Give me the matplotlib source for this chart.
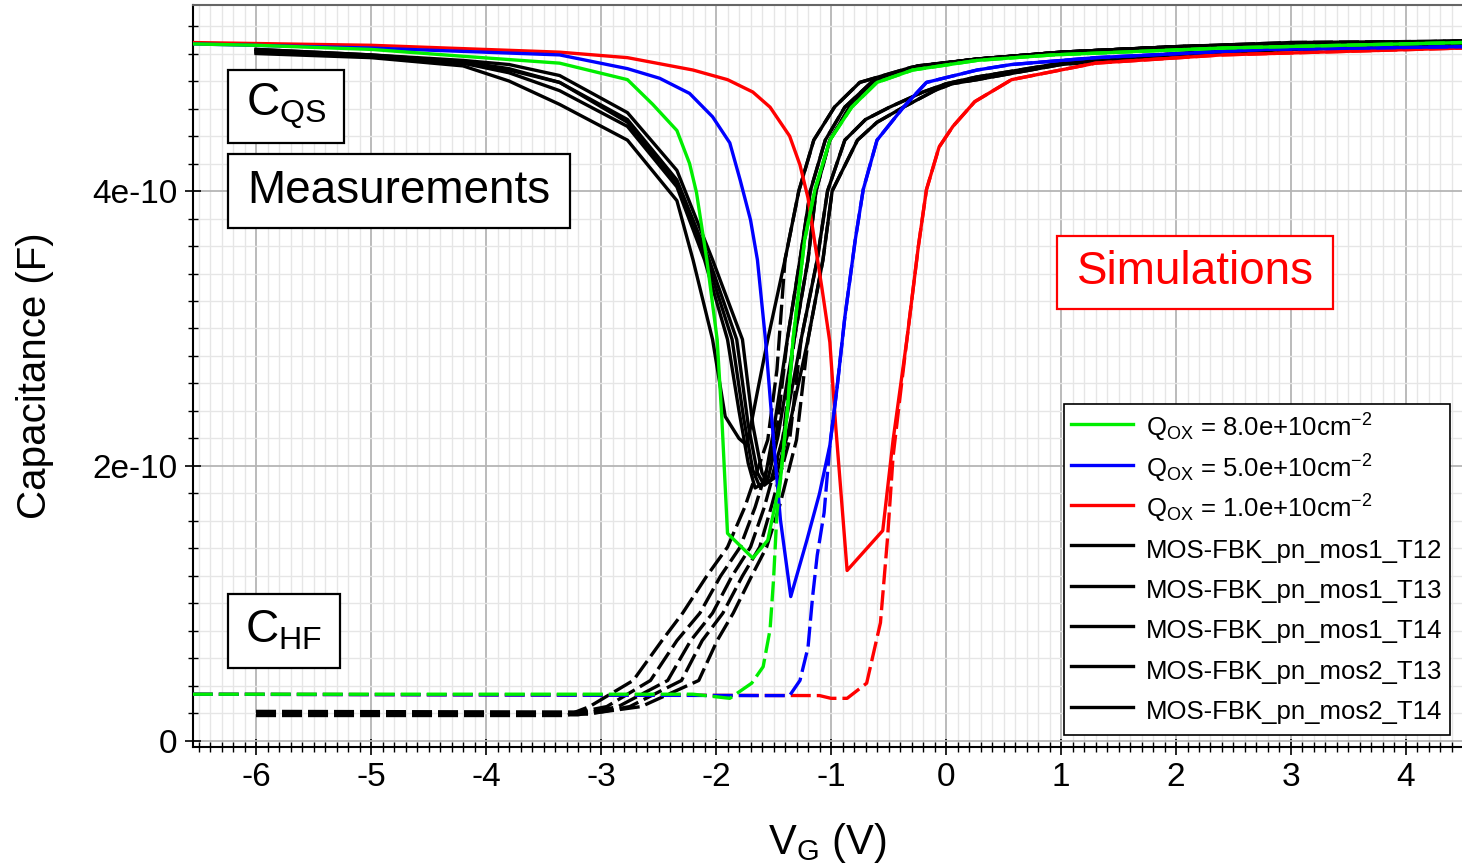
import matplotlib
matplotlib.use("Agg")
import matplotlib.pyplot as plt
from matplotlib.ticker import MultipleLocator, FuncFormatter, FixedLocator
from matplotlib.patches import Rectangle

plt.rcParams['font.family'] = ['Liberation Sans', 'DejaVu Sans']
plt.rcParams['mathtext.fontset'] = 'custom'
plt.rcParams['mathtext.rm'] = 'Liberation Sans'
plt.rcParams['mathtext.it'] = 'Liberation Sans:italic'
plt.rcParams['axes.unicode_minus'] = False

UNIT = 1e-10  # capacitance values below are in units of 1e-10 F

# ---------------- Simulations (Q_ox) ----------------
sim_labels = [r'$\mathregular{Q_{OX}}$ = 8.0e+10cm$\mathregular{^{-2}}$',
              r'$\mathregular{Q_{OX}}$ = 5.0e+10cm$\mathregular{^{-2}}$',
              r'$\mathregular{Q_{OX}}$ = 1.0e+10cm$\mathregular{^{-2}}$']
sim_colors = ['#00ee00', '#0000ff', '#ff0000']

green_qs_x = [-6.55, -6.0, -5.0, -4.2, -3.36, -2.77, -2.55, -2.34, -2.23, -2.17, -2.08, -1.99, -1.95, -1.90,
              -1.68, -1.55, -1.44, -1.38, -1.33, -1.23, -1.14, -1.01, -0.82, -0.60, -0.29, 0.27, 0.93, 2.40, 4.49]
green_qs_y = [5.07, 5.06, 5.03, 4.98, 4.93, 4.81, 4.63, 4.44, 4.20, 3.99, 3.50, 2.92, 2.36, 1.51,
              1.33, 1.46, 1.90, 2.40, 2.92, 3.64, 4.01, 4.37, 4.61, 4.79, 4.88, 4.95, 4.99, 5.04, 5.08]
green_hf_x = [-6.55, -2.20, -1.88, -1.69, -1.59, -1.53, -1.50, -1.47, -1.44, -1.38, -1.33, -1.23, -1.14, -1.01,
              -0.82, -0.60, -0.29, 0.27, 0.93, 2.40, 4.49]
green_hf_y = [0.34, 0.34, 0.31, 0.42, 0.54, 0.81, 1.17, 1.66, 1.90, 2.40, 2.92, 3.64, 4.01, 4.37,
              4.61, 4.79, 4.88, 4.95, 4.99, 5.04, 5.08]

blue_qs_x = [-6.55, -5.0, -3.36, -2.77, -2.49, -2.23, -2.03, -1.88, -1.79, -1.70, -1.64, -1.57, -1.50, -1.44,
             -1.35, -1.21, -1.10, -1.01, -0.95, -0.88, -0.79, -0.72, -0.60, -0.37, -0.17, 0.27, 0.57, 1.30, 2.77, 4.49]
blue_qs_y = [5.07, 5.04, 4.99, 4.89, 4.82, 4.71, 4.54, 4.35, 4.08, 3.79, 3.50, 2.92, 2.19, 1.61,
             1.05, 1.46, 1.80, 2.15, 2.55, 3.08, 3.64, 4.01, 4.37, 4.61, 4.79, 4.88, 4.92, 4.97, 5.03, 5.05]
blue_hf_x = [-6.55, -1.60, -1.36, -1.27, -1.20, -1.16, -1.12, -1.06, -1.01, -0.95, -0.88, -0.79, -0.72, -0.60,
             -0.37, -0.17, 0.27, 0.57, 1.30, 2.77, 4.49]
blue_hf_y = [0.34, 0.33, 0.33, 0.44, 0.68, 1.05, 1.35, 1.66, 2.15, 2.55, 3.08, 3.64, 4.01, 4.37,
             4.61, 4.79, 4.88, 4.92, 4.97, 5.03, 5.05]

red_qs_x = [-6.55, -5.0, -3.36, -2.77, -2.20, -1.90, -1.68, -1.53, -1.36, -1.27, -1.20, -1.14, -1.08, -1.01,
            -0.96, -0.86, -0.55, -0.46, -0.34, -0.24, -0.17, -0.06, 0.06, 0.25, 0.57, 1.30, 2.40, 4.49]
red_qs_y = [5.08, 5.06, 5.01, 4.97, 4.88, 4.81, 4.72, 4.61, 4.40, 4.19, 3.95, 3.62, 3.30, 2.90,
            2.30, 1.24, 1.53, 2.19, 2.92, 3.60, 4.01, 4.32, 4.47, 4.65, 4.81, 4.93, 4.99, 5.04]
red_hf_x = [-6.55, -1.10, -1.00, -0.86, -0.69, -0.57, -0.51, -0.46, -0.40, -0.34, -0.24, -0.17, -0.06, 0.06,
            0.25, 0.57, 1.30, 2.40, 4.49]
red_hf_y = [0.34, 0.33, 0.31, 0.31, 0.42, 0.86, 1.46, 2.07, 2.50, 2.92, 3.60, 4.01, 4.32, 4.47,
            4.65, 4.81, 4.93, 4.99, 5.04]

# ---------------- Measurements ----------------
meas_labels = ['MOS-FBK_pn_mos1_T12', 'MOS-FBK_pn_mos1_T13', 'MOS-FBK_pn_mos1_T14',
               'MOS-FBK_pn_mos2_T13', 'MOS-FBK_pn_mos2_T14']

t12_qs_x = [-6.0, -5.0, -4.2, -3.8, -3.36, -2.77, -2.34, -2.20, -2.03, -1.92, -1.80, -1.73, -1.64, -1.55,
            -1.40, -1.28, -1.15, -0.97, -0.75, -0.30, 0.27, 1.0, 2.0, 3.0, 4.49]
t12_qs_y = [5.00, 4.97, 4.91, 4.80, 4.63, 4.37, 3.93, 3.50, 2.92, 2.36, 2.20, 2.15, 2.54, 2.92,
            3.50, 4.00, 4.37, 4.61, 4.79, 4.90, 4.96, 5.01, 5.05, 5.07, 5.09]
t12_hf_x = [-6.0, -3.30, -3.10, -2.72, -2.47, -2.29, -2.08, -1.90, -1.75, -1.55, -1.47, -1.40, -1.28,
            -1.15, -0.97, -0.75, -0.30, 0.27, 1.0, 2.0, 3.0, 4.49]
t12_hf_y = [0.185, 0.185, 0.25, 0.44, 0.73, 0.93, 1.20, 1.41, 1.70, 2.19, 2.70, 3.50, 4.00,
            4.37, 4.61, 4.79, 4.90, 4.96, 5.01, 5.05, 5.07, 5.09]

t13_qs_x = [-6.0, -5.0, -4.2, -3.8, -3.36, -2.77, -2.34, -2.10, -1.90, -1.80, -1.72, -1.66, -1.58, -1.50,
            -1.38, -1.27, -1.18, -1.05, -0.88, -0.65, -0.25, 0.27, 1.0, 2.0, 3.0, 4.49]
t13_qs_y = [5.01, 4.98, 4.93, 4.86, 4.73, 4.47, 4.03, 3.50, 2.92, 2.40, 2.02, 1.84, 1.88, 2.25,
            2.92, 3.50, 4.00, 4.37, 4.61, 4.79, 4.91, 4.96, 5.01, 5.05, 5.07, 5.09]
t13_hf_x = [-6.0, -3.25, -2.95, -2.57, -2.34, -2.14, -1.96, -1.79, -1.66, -1.48, -1.38, -1.27, -1.18,
            -1.05, -0.88, -0.65, -0.25, 0.27, 1.0, 2.0, 3.0, 4.49]
t13_hf_y = [0.21, 0.20, 0.25, 0.44, 0.73, 0.93, 1.20, 1.41, 1.70, 2.19, 2.92, 3.50, 4.00,
            4.37, 4.61, 4.79, 4.91, 4.96, 5.01, 5.05, 5.07, 5.09]

t14_qs_x = [-6.0, -5.0, -4.2, -3.8, -3.36, -2.77, -2.34, -2.08, -1.86, -1.76, -1.68, -1.62, -1.55, -1.46,
            -1.32, -1.20, -1.13, -1.01, -0.84, -0.62, -0.22, 0.27, 1.0, 2.0, 3.0, 4.49]
t14_qs_y = [5.02, 4.98, 4.93, 4.88, 4.79, 4.50, 4.05, 3.50, 2.92, 2.35, 1.97, 1.85, 1.90, 2.22,
            2.92, 3.50, 4.00, 4.37, 4.61, 4.79, 4.91, 4.96, 5.01, 5.05, 5.08, 5.09]
t14_hf_x = [-6.0, -3.20, -2.85, -2.42, -2.22, -2.03, -1.86, -1.70, -1.58, -1.42, -1.32, -1.20, -1.13,
            -1.01, -0.84, -0.62, -0.22, 0.27, 1.0, 2.0, 3.0, 4.49]
t14_hf_y = [0.195, 0.19, 0.25, 0.44, 0.73, 0.93, 1.20, 1.41, 1.70, 2.19, 2.92, 3.50, 4.00,
            4.37, 4.61, 4.79, 4.91, 4.96, 5.01, 5.05, 5.08, 5.09]

m2t13_qs_x = [-6.0, -5.0, -4.2, -3.8, -3.36, -2.77, -2.34, -2.06, -1.82, -1.72, -1.64, -1.58, -1.52, -1.42,
              -1.26, -1.12, -1.03, -0.88, -0.70, -0.49, -0.20, 0.0, 0.27, 1.0, 2.0, 3.0, 4.49]
m2t13_qs_y = [5.03, 4.99, 4.94, 4.89, 4.79, 4.52, 4.08, 3.50, 2.92, 2.30, 1.95, 1.86, 1.90, 2.20,
              2.92, 3.50, 4.00, 4.37, 4.52, 4.61, 4.72, 4.78, 4.83, 4.93, 5.00, 5.04, 5.06]
m2t13_hf_x = [-6.0, -3.10, -2.75, -2.30, -2.12, -1.94, -1.77, -1.62, -1.52, -1.36, -1.26, -1.12, -1.03,
              -0.88, -0.70, -0.49, -0.20, 0.0, 0.27, 1.0, 2.0, 3.0, 4.49]
m2t13_hf_y = [0.20, 0.195, 0.25, 0.44, 0.73, 0.93, 1.20, 1.41, 1.70, 2.19, 2.92, 3.50, 4.00,
              4.37, 4.52, 4.61, 4.72, 4.78, 4.83, 4.93, 5.00, 5.04, 5.06]

m2t14_qs_x = [-6.0, -5.0, -4.2, -3.8, -3.36, -2.77, -2.34, -2.03, -1.77, -1.68, -1.60, -1.55, -1.48, -1.38,
              -1.20, -1.07, -0.99, -0.77, -0.60, -0.37, -0.10, 0.05, 0.27, 1.0, 2.0, 3.0, 4.49]
m2t14_qs_y = [5.03, 4.99, 4.95, 4.92, 4.84, 4.57, 4.15, 3.50, 2.92, 2.30, 1.95, 1.88, 1.92, 2.22,
              2.92, 3.50, 4.00, 4.37, 4.50, 4.61, 4.73, 4.78, 4.81, 4.92, 4.99, 5.03, 5.06]
m2t14_hf_x = [-6.0, -3.00, -2.65, -2.15, -1.99, -1.85, -1.69, -1.56, -1.45, -1.30, -1.20, -1.07, -0.99,
              -0.77, -0.60, -0.37, -0.10, 0.05, 0.27, 1.0, 2.0, 3.0, 4.49]
m2t14_hf_y = [0.215, 0.21, 0.25, 0.44, 0.73, 0.93, 1.20, 1.41, 1.70, 2.19, 2.92, 3.50, 4.00,
              4.37, 4.50, 4.61, 4.73, 4.78, 4.81, 4.92, 4.99, 5.03, 5.06]

x_ticks = [-6, -5, -4, -3, -2, -1, 0, 1, 2, 3, 4]
y_ticks = [0, 2, 4]  # in units of 1e-10 F

# ---------------- Figure ----------------
W, H = 1462, 865
fig = plt.figure(figsize=(W / 100, H / 100), dpi=100)
ax = fig.add_axes([193 / W, 1 - 747 / H, (W - 193) / W, (747 - 5) / H])


def sc(v):
    return [y * UNIT for y in v]


lw = 2.4
dash = (0, (6, 1.8))
meas = [(t12_qs_x, t12_qs_y, t12_hf_x, t12_hf_y),
        (t13_qs_x, t13_qs_y, t13_hf_x, t13_hf_y),
        (t14_qs_x, t14_qs_y, t14_hf_x, t14_hf_y),
        (m2t13_qs_x, m2t13_qs_y, m2t13_hf_x, m2t13_hf_y),
        (m2t14_qs_x, m2t14_qs_y, m2t14_hf_x, m2t14_hf_y)]
meas_handles = []
for (qx, qy, hx, hy), lab in zip(meas, meas_labels):
    h, = ax.plot(qx, sc(qy), color='black', lw=lw, label=lab, zorder=3)
    ax.plot(hx, sc(hy), color='black', lw=lw, ls=dash, zorder=3)
    meas_handles.append(h)

sims = [(green_qs_x, green_qs_y, green_hf_x, green_hf_y),
        (blue_qs_x, blue_qs_y, blue_hf_x, blue_hf_y),
        (red_qs_x, red_qs_y, red_hf_x, red_hf_y)]
sim_handles = [None, None, None]
for i in [2, 1, 0]:
    qx, qy, hx, hy = sims[i]
    h, = ax.plot(qx, sc(qy), color=sim_colors[i], lw=lw, label=sim_labels[i], zorder=4)
    ax.plot(hx, sc(hy), color=sim_colors[i], lw=lw, ls=dash, zorder=4)
    sim_handles[i] = h

ax.set_xlim(-6.548, 4.487)
ax.set_ylim(-0.044 * UNIT, 5.353 * UNIT)

ax.set_xticks(x_ticks)
ax.xaxis.set_minor_locator(MultipleLocator(0.1))
ax.yaxis.set_major_locator(FixedLocator(sc(y_ticks)))
ax.yaxis.set_minor_locator(MultipleLocator(0.2 * UNIT))
ax.yaxis.set_major_formatter(FuncFormatter(
    lambda v, p: '0' if abs(v) < 1e-15 else '%de-10' % round(v / UNIT)))

ax.set_axisbelow(True)
ax.grid(which='major', color='#b5b5b5', lw=1.3, zorder=0)
ax.grid(which='minor', color='#e6e6e6', lw=1.0, zorder=0)

ax.tick_params(which='major', direction='inout', length=12, width=1.2, labelsize=24, pad=5)
ax.tick_params(which='minor', direction='inout', length=7, width=1.0)
ax.spines['left'].set_linewidth(1.5)
ax.spines['bottom'].set_linewidth(1.5)
ax.spines['top'].set_color('#666666')
ax.spines['top'].set_linewidth(1.5)
ax.spines['right'].set_visible(False)

ax.set_xlabel(r'$\mathregular{V_G}$ (V)', fontsize=30, labelpad=20)
ax.set_ylabel('Capacitance (F)', fontsize=29, labelpad=28)

leg = ax.legend(handles=sim_handles + meas_handles, loc='lower right',
                bbox_to_anchor=(0.9905, 0.0162), borderaxespad=0, fontsize=18.5,
                fancybox=False, framealpha=1, edgecolor='black', handlelength=2.4,
                handleheight=1.6, handletextpad=0.5, labelspacing=0.285, borderpad=0.3)
leg.get_frame().set_linewidth(1.2)
leg.set_zorder(10)


def label_box(x0, y0, x1, y1, txt, color):
    fig.add_artist(Rectangle((x0 / W, 1 - y1 / H), (x1 - x0) / W, (y1 - y0) / H,
                             transform=fig.transFigure, fc='white', ec=color, lw=1.6, zorder=5))
    fig.text((x0 + x1) / 2 / W, 1 - (y0 + y1) / 2 / H, txt, ha='center', va='center',
             color=color, fontsize=33, zorder=6)


label_box(228, 70, 344, 143, r'$\mathregular{C_{QS}}$', 'black')
label_box(228, 154, 570, 228, 'Measurements', 'black')
label_box(228, 594, 340, 668, r'$\mathregular{C_{HF}}$', 'black')
label_box(1057, 236, 1333, 309, 'Simulations', '#ff0000')

fig.savefig('out.png', dpi=100)
